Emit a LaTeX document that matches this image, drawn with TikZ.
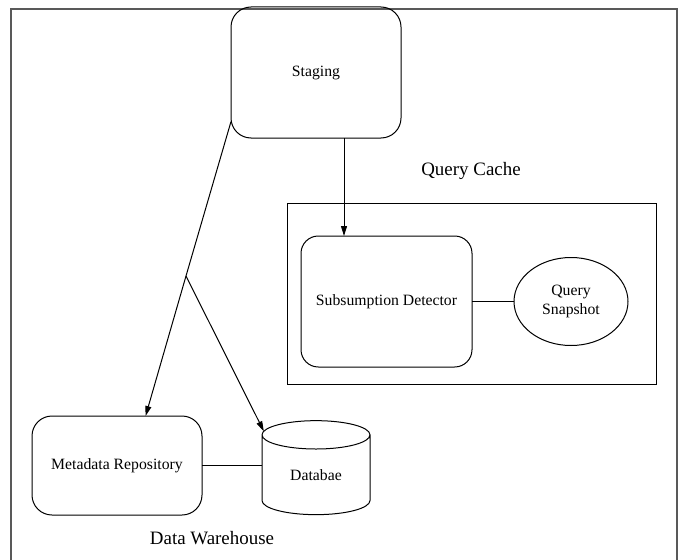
\documentclass[tikz,border=0pt]{standalone}
\usepackage{fontspec}
\setmainfont{Liberation Serif}
\usetikzlibrary{shapes.geometric, arrows.meta, calc}

\begin{document}
\begin{tikzpicture}[x=0.75pt, y=-0.75pt, line width=0.75pt,
    every node/.style={inner sep=0pt, outer sep=0pt, align=center, font=\fontsize{11.8}{14}\selectfont},
    block/.style={draw, rounded corners=15pt},
    store/.style={draw, cylinder, shape border rotate=90, aspect=0.55},
    label/.style={font=\fontsize{14.2}{17}\selectfont},
    arr/.style={-{Triangle[length=7.5pt, width=4.5pt]}}]
    \useasboundingbox (0,0) rectangle (678,560);

    % outer frame, open at the bottom
    \draw[gray!70!black, line width=1.2pt] (11,570) -- (11,9) -- (677,9) -- (677,570);

    \node (staging) [block, minimum width=127.5pt, minimum height=98.25pt] at (316,72.5) {Staging};

    \node (cachelbl) [label] at (471,171) {Query Cache};
    \draw (287.5,203) rectangle (656,384);
    \node (sub)  [block, rounded corners=13pt, minimum width=128.25pt, minimum height=98.25pt] at (386.5,301.5) {Subsumption Detector};
    \node (snap) [draw, ellipse, minimum width=85.5pt, minimum height=66pt] at (571,301.5) {Query\\Snapshot};

    \node (meta) [block, minimum width=127.5pt, minimum height=74.25pt] at (117,465.5) {Metadata Repository};
    \node (db)   [store, minimum width=81pt, minimum height=70.5pt] at (316,475) {Databae};
    \node (dwlbl) [label] at (212,538) {Data Warehouse};

    \draw[arr] ($(staging.south)+(28,0)$) coordinate (s1) -- (s1 |- sub.north);
    \draw (sub.east) -- (snap.west);

    \coordinate (split) at (186,276);
    \draw (staging.210) -- (split);
    \draw[arr] (split) -- (meta.60);
    \draw[arr] (split) -- (db.140);
    \draw (meta.east) -- (meta.east -| db.west);
\end{tikzpicture}
\end{document}
